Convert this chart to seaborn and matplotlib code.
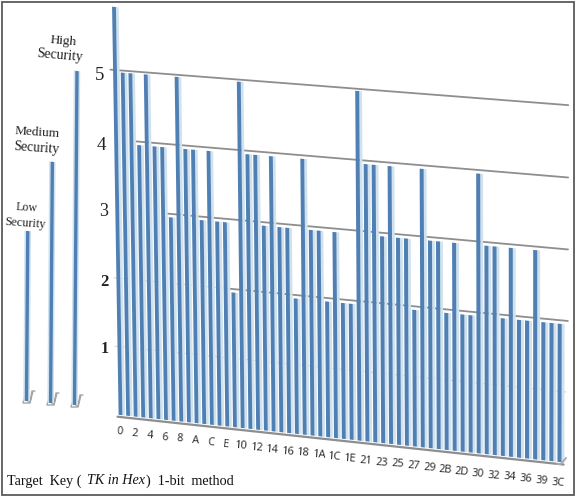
import numpy as np
import matplotlib
matplotlib.use('Agg')
import matplotlib.pyplot as plt
import matplotlib.transforms as mtransforms
from matplotlib.patches import Rectangle
import seaborn as sns

# Target key 1-bit method: security level per key, drawn as a tilted 3D looking bar chart

key_labels = ['0', '1', '2', '3', '4', '5', '6', '7', '8', '9', 'A', 'B', 'C', 'D', 'E', 'F',
              '10', '11', '12', '13', '14', '15', '16', '17', '18', '19', '1A', '1B', '1C', '1D', '1E',
              '20', '21', '22', '23', '24', '25', '26', '27', '28', '29', '2A', '2B', '2C', '2D', '2E',
              '30', '31', '32', '33', '34', '35', '36', '37', '39', '3A', '3C']
security = [5.9, 4.97, 4.97, 3.95, 4.97, 3.95, 3.95, 2.95, 4.97, 3.95, 3.95, 2.95, 3.95, 2.95, 2.95, 1.95,
            4.97, 3.95, 3.95, 2.95, 3.95, 2.95, 2.95, 1.95, 3.95, 2.95, 2.95, 1.95, 2.95, 1.95, 1.95,
            4.97, 3.95, 3.95, 2.95, 3.95, 2.95, 2.95, 1.95, 3.95, 2.95, 2.95, 1.95, 2.95, 1.95, 1.95,
            3.95, 2.95, 2.95, 1.95, 2.95, 1.95, 1.95, 2.95, 1.95, 1.95, 1.95]
y_ticks = ['1', '2', '3', '4', '5']

legend_names = ['Low', 'Medium', 'High']
legend_values = [2.53, 3.6, 5.0]

DARK = '#4f7fb3'
LIGHT = '#cfe2ee'
GREY = '#8e8e8e'
SERIF = 'Liberation Serif'


class Perspective(mtransforms.Transform):
    # homography from four corner points, data -> image pixels
    input_dims = 2
    output_dims = 2

    def __init__(self, src, dst):
        super().__init__()
        rows = []
        rhs = []
        for (x, y), (u, v) in zip(src, dst):
            rows.append([x, y, 1, 0, 0, 0, -u * x, -u * y])
            rows.append([0, 0, 0, x, y, 1, -v * x, -v * y])
            rhs += [u, v]
        h = np.linalg.solve(np.array(rows, float), np.array(rhs, float))
        self.h = np.append(h, 1).reshape(3, 3)

    def transform_non_affine(self, values):
        values = np.asarray(values, float)
        pts = np.column_stack([values, np.ones(len(values))]) @ self.h.T
        return pts[:, :2] / pts[:, 2:]


sns.set_theme(style='white')
fig = plt.figure(figsize=(5.76, 4.97), dpi=100)
ax = fig.add_axes([0, 0, 1, 1])
ax_legend = fig.add_axes([0, 0, 1, 1])

# image pixels (origin top left) -> figure
pix = mtransforms.Affine2D().scale(1 / 576, -1 / 497).translate(0, 1) + fig.transFigure
main_view = Perspective([(0, 0), (56, 0), (0, 5), (56, 5)],
                        [(120.5, 415), (559.5, 462), (115, 70), (560, 104.5)]) + pix
legend_view = Perspective([(0, 0), (2, 0), (0, 5), (2, 5)],
                          [(26.5, 401), (74.5, 405), (29, 65), (77, 71)]) + pix

# side faces first, then the fronts
sns.barplot(x=key_labels, y=security, color=LIGHT, saturation=1, width=0.36, edgecolor='none', linewidth=0, ax=ax)
n_side = len(ax.patches)
sns.barplot(x=key_labels, y=security, color=DARK, saturation=1, width=0.5, edgecolor='none', linewidth=0, ax=ax)
side_shift = mtransforms.Affine2D().translate(0.42, 0)
for i, bar in enumerate(ax.patches):
    bar.set_clip_on(False)
    if i < n_side:
        bar.set_transform(side_shift + main_view)
        bar.set_zorder(1)
    else:
        bar.set_transform(main_view)
        bar.set_zorder(1.5)

# legend bars, drawn with their own view
sns.barplot(x=legend_names, y=legend_values, color=LIGHT, saturation=1, width=0.27, edgecolor='none', linewidth=0, ax=ax_legend)
n_side = len(ax_legend.patches)
sns.barplot(x=legend_names, y=legend_values, color=DARK, saturation=1, width=0.14, edgecolor='none', linewidth=0, ax=ax_legend)
for i, bar in enumerate(ax_legend.patches):
    bar.set_clip_on(False)
    bar.set_transform(legend_view)
    bar.set_zorder(1 if i < n_side else 1.5)

for a in [ax, ax_legend]:
    a.set_xlim(0, 1)
    a.set_ylim(0, 1)
    a.axis('off')

# grid lines behind the bars
for level, start in [(5, -0.6), (4, 2.5), (3, 6.5), (2, 14.5)]:
    ax.plot([start, 57], [level, level], color=GREY, lw=1.3,
            transform=main_view, zorder=0.5, clip_on=False)
for level, end in [(1, 57), (2, 14.5)]:
    ax.plot([-0.6, end], [level, level], color='#d4dde2', lw=0.9, ls=(0, (3, 2)),
            transform=main_view, zorder=0.5, clip_on=False)
ax.plot([-0.4, 56.5], [-0.03, -0.03], color=GREY, lw=1.6, transform=main_view, zorder=2, clip_on=False)
ax.plot([557, 561, 566], [464, 464, 458], color='#a8a8a8', lw=1.4, transform=pix, zorder=2, clip_on=False)

# little feet under the legend bars
for px, py in [(27, 403), (51, 405), (75, 407)]:
    ax.plot([px + 8, px + 6, px + 3, px - 4, px - 3, px + 3, px + 5],
            [py - 12, py - 12, py, py, py - 4, py - 1, py - 12],
            color='#a5a5a5', lw=1.0, transform=pix, zorder=2, clip_on=False)

# x labels follow the base line
base_xy = main_view.transform(np.column_stack([np.arange(len(key_labels)), np.zeros(len(key_labels))]))
to_pix = pix.inverted()
for i in range(0, len(key_labels), 2):
    px, py = to_pix.transform(base_xy[i])
    ax.text(px - 1, py + 17 + 4 * i / 56, key_labels[i], fontsize=7.8, family='Open Sans', color='#222222',
            rotation=-4, ha='center', va='center', transform=pix)

# y labels
for label, px, py, size in zip(y_ticks, [105, 104, 104, 101, 100], [349, 282, 212, 145, 75], [11.5, 12, 13, 13.5, 13.5]):
    ax.text(px, py, label, fontsize=size, family=SERIF, color='#222222', weight='bold' if label in '12' else 'normal',
            ha='center', va='center', transform=pix)

# legend captions
for s, px, py, rot, size in [('High', 63, 41, -5, 9.5), ('Security', 60, 56, -5, 10), ('Medium', 37, 133, -4, 9.5),
                             ('Security', 36, 148, -4, 9.8), ('Low', 27, 208, -4, 8.5), ('Security', 25, 223, -4, 8.8)]:
    ax.text(px, py, s, fontsize=size, family=SERIF, color='#222222', rotation=rot,
            ha='center', va='center', transform=pix)

# caption at the bottom
ax.text(7, 481, 'Target  Key (', fontsize=10.2, family=SERIF, color='#111111', va='center', transform=pix)
ax.text(87, 481, 'TK in Hex', fontsize=10.2, family=SERIF, style='italic', color='#111111', va='center', transform=pix)
ax.text(146, 481, ')  1-bit  method', fontsize=10.2, family=SERIF, color='#111111', va='center', transform=pix)

# image frame
fig.add_artist(Rectangle((1.5 / 576, 2.5 / 497), 572.5 / 576, 493 / 497, transform=fig.transFigure,
                         fill=False, edgecolor='#5a5a5a', lw=1.3))

fig.savefig('out.png', dpi=100)
